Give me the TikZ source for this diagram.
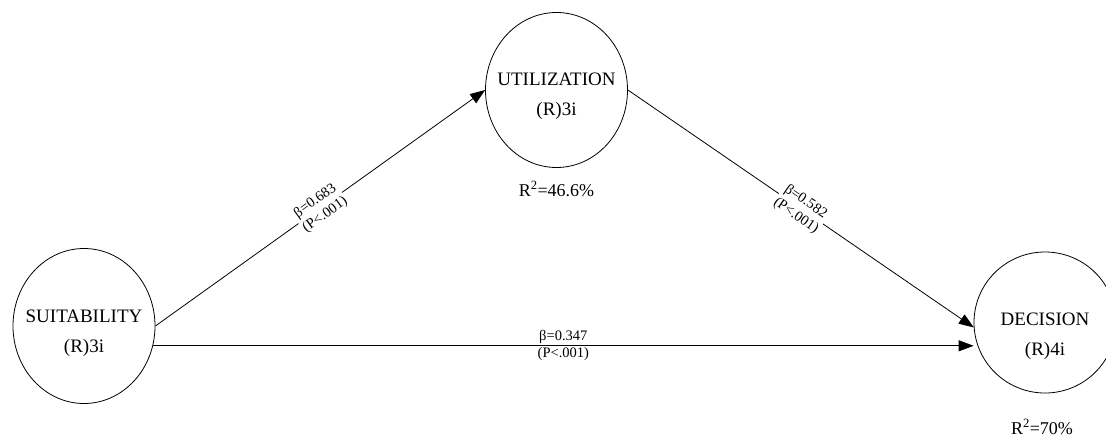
\documentclass[tikz,border=0pt]{standalone}
\usepackage{fontspec}
\setmainfont{Liberation Serif}
\usetikzlibrary{shapes.geometric,arrows.meta}
\tikzset{
  construct/.style={draw, ellipse, line width=0.8pt, minimum width=142pt, minimum height=155pt, inner sep=0pt},
  ctext/.style={align=center, font=\fontsize{19}{30}\selectfont, inner sep=0pt},
  arr/.style={line width=0.8pt, -{Triangle[length=15pt,width=11pt]}},
  coef/.style={align=center, font=\fontsize{14.5}{17}\selectfont, inner sep=1pt},
  rsq/.style={font=\fontsize{18}{20}\selectfont, inner sep=0pt}
}
\begin{document}
\begin{tikzpicture}[x=1pt,y=-1pt]
\clip (0,0) rectangle (1106,439);
\node[construct] (suit) at (84,326) {};
\node[construct] (util) at (556.5,90) {};
\node[construct, minimum height=141pt] (dec) at (1045,322.5) {};
\node[ctext] (suittxt) at (84,333) {SUITABILITY\\(R)3i};
\node[ctext] (utiltxt) at (556.5,96) {UTILIZATION\\(R)3i};
\node[ctext] (dectxt) at (1045,336) {DECISION\\(R)4i};
\node[rsq] (utilr) at (556.5,189) {R\textsuperscript{2}=46.6\%};
\node[rsq] (decr) at (1042,427) {R\textsuperscript{2}=70\%};
\draw[arr] (suit.east) -- node[coef, midway, sloped, fill=white] {β=0.683\\(P<.001)} (util.west);
\draw[arr] (util.east) -- node[coef, midway, sloped, fill=white] {β=0.582\\(P<.001)} (dec.184);
\coordinate (hend) at (suit.-16 -| dec.west);
\draw[arr] (suit.-16) -- node[coef, midway] {β=0.347\\(P<.001)} (hend);
\end{tikzpicture}
\end{document}
